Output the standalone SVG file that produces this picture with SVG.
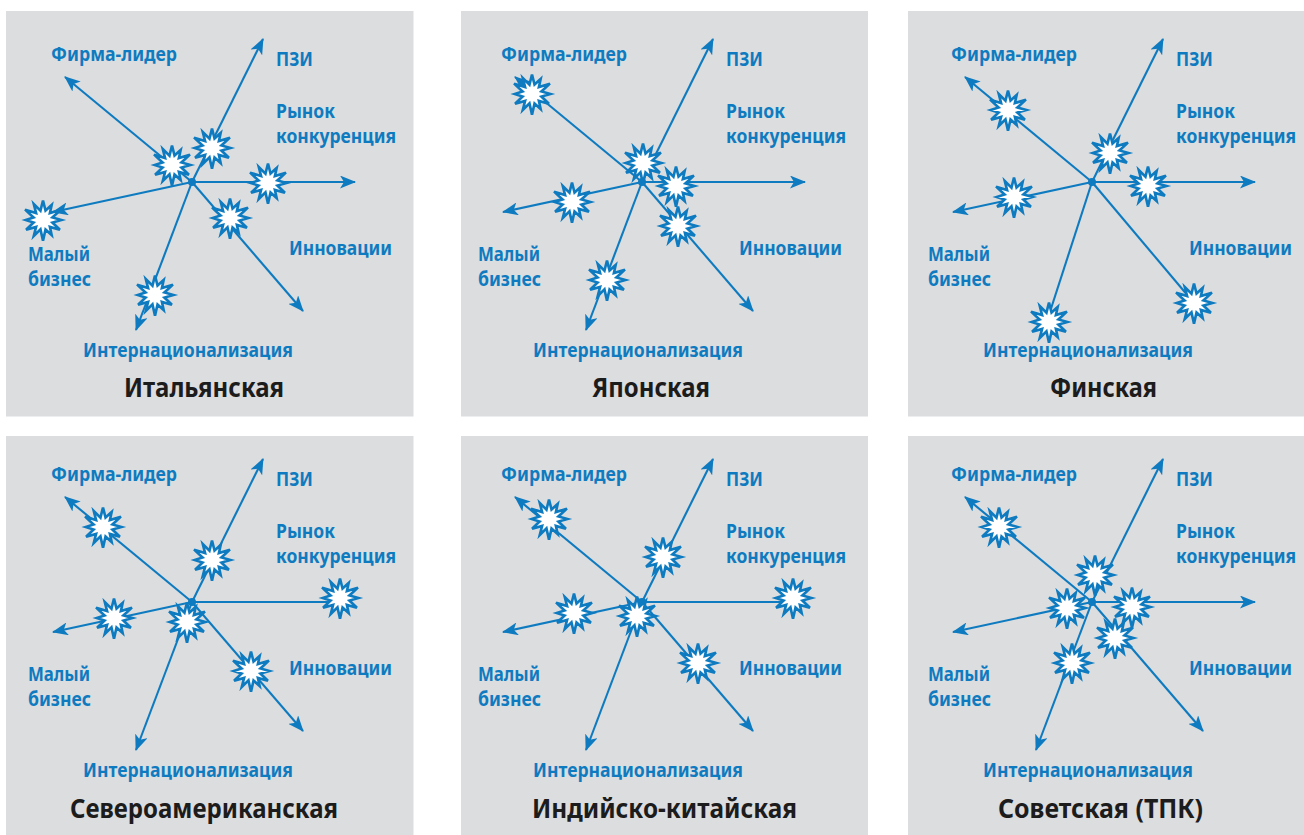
<svg xmlns="http://www.w3.org/2000/svg" xmlns:xlink="http://www.w3.org/1999/xlink" width="1304" height="835" viewBox="0 0 1304 835">
<style>
.bg{fill:#dcdddf}
.ln{stroke:#0e7bc0;stroke-width:2.1;fill:none}
.ah{marker-end:url(#ah)}
.dot{fill:#0e7bc0}
.star{fill:#fff;stroke:#0e7bc0;stroke-width:2.3;stroke-linejoin:miter}
.lb{font-family:"Noto Sans","Open Sans","Liberation Sans",sans-serif;font-weight:bold;font-size:19.5px;fill:#0e7bc0}
.tt{font-family:"Noto Sans","Open Sans","Liberation Sans",sans-serif;font-weight:bold;font-size:26px;fill:#1c1c1c}
</style>
<defs>
<marker id="ah" viewBox="0 0 16 13" markerWidth="16" markerHeight="13" refX="15" refY="6.5" orient="auto" markerUnits="userSpaceOnUse">
<path d="M0,0 L16,6.5 L0,13 L4,6.5 Z" fill="#0e7bc0"/>
</marker>
<g id="st"><path transform="scale(1.15)" d="M0,-17 L2.2,-8.2 L7.5,-13 L6,-6 L15.6,-9 L8.2,-2.2 L16,0 L8.2,2.2 L14.7,8.5 L6,6 L7.5,13 L2.2,8.2 L0,18 L-2.2,8.2 L-8,13.9 L-6,6 L-14.7,8.5 L-8.2,2.2 L-15,0 L-8.2,-2.2 L-15.6,-9 L-6,-6 L-8,-13.9 L-2.2,-8.2 Z"/></g>
<g id="labels">
<text class="lb" x="51" y="61" textLength="126" lengthAdjust="spacingAndGlyphs">Фирма-лидер</text>
<text class="lb" x="276" y="66" textLength="37" lengthAdjust="spacingAndGlyphs">ПЗИ</text>
<text class="lb" x="276" y="118" textLength="59" lengthAdjust="spacingAndGlyphs">Рынок</text>
<text class="lb" x="276" y="143" textLength="120" lengthAdjust="spacingAndGlyphs">конкуренция</text>
<text class="lb" x="289" y="255" textLength="103" lengthAdjust="spacingAndGlyphs">Инновации</text>
<text class="lb" x="28" y="261" textLength="62" lengthAdjust="spacingAndGlyphs">Малый</text>
<text class="lb" x="28" y="286" textLength="63" lengthAdjust="spacingAndGlyphs">бизнес</text>
<text class="lb" x="83" y="357" textLength="210" lengthAdjust="spacingAndGlyphs">Интернационализация</text>
</g>
</defs>

<!-- Panel A: Итальянская -->
<g id="panel-italian">
<rect class="bg" x="6" y="11" width="407.5" height="405.5"/>
<g id="connectors-italian">
<line class="ln ah" x1="192" y1="182" x2="65" y2="77"/>
<line class="ln ah" x1="192" y1="182" x2="263" y2="39"/>
<line class="ln ah" x1="192" y1="182" x2="355" y2="182"/>
<line class="ln ah" x1="192" y1="182" x2="303" y2="311"/>
<line class="ln ah" x1="192" y1="182" x2="136" y2="330"/>
<line class="ln ah" x1="192" y1="182" x2="53" y2="212"/>
<circle class="dot" cx="192" cy="182" r="4"/>
</g>
<g id="it-s1"><use href="#st" class="star" x="172" y="165"/></g>
<g id="it-s2"><use href="#st" class="star" x="212" y="148"/></g>
<g id="it-s3"><use href="#st" class="star" x="268" y="183"/></g>
<g id="it-s4"><use href="#st" class="star" x="230" y="218"/></g>
<g id="it-s5"><use href="#st" class="star" x="43" y="220"/></g>
<g id="it-s6"><use href="#st" class="star" x="155" y="295"/></g>
<g id="it-labels"><use href="#labels"/></g>
<g id="it-title"><text class="tt" x="124" y="397" textLength="160" lengthAdjust="spacingAndGlyphs">Итальянская</text></g>
</g>

<!-- Panel B: Японская -->
<g id="panel-japanese" transform="translate(450,0)">
<rect class="bg" x="11" y="11" width="407" height="405.5"/>
<g id="connectors-japanese">
<line class="ln ah" x1="192" y1="182" x2="65" y2="77"/>
<line class="ln ah" x1="192" y1="182" x2="263" y2="39"/>
<line class="ln ah" x1="192" y1="182" x2="355" y2="182"/>
<line class="ln ah" x1="192" y1="182" x2="303" y2="311"/>
<line class="ln ah" x1="192" y1="182" x2="136" y2="330"/>
<line class="ln ah" x1="192" y1="182" x2="53" y2="212"/>
<circle class="dot" cx="192" cy="182" r="4"/>
</g>
<g id="jp-s1"><use href="#st" class="star" x="82" y="94"/></g>
<g id="jp-s2"><use href="#st" class="star" x="193" y="163"/></g>
<g id="jp-s3"><use href="#st" class="star" x="226" y="186"/></g>
<g id="jp-s4"><use href="#st" class="star" x="228" y="226"/></g>
<g id="jp-s5"><use href="#st" class="star" x="122" y="202"/></g>
<g id="jp-s6"><use href="#st" class="star" x="157" y="280"/></g>
<g id="jp-labels"><use href="#labels"/></g>
<g id="jp-title"><text class="tt" x="142" y="397" textLength="118" lengthAdjust="spacingAndGlyphs">Японская</text></g>
</g>

<!-- Panel C: Финская -->
<g id="panel-finnish" transform="translate(900,0)">
<rect class="bg" x="8" y="11" width="396" height="405.5"/>
<g id="connectors-finnish">
<line class="ln ah" x1="192" y1="182" x2="65" y2="77"/>
<line class="ln ah" x1="192" y1="182" x2="263" y2="39"/>
<line class="ln ah" x1="192" y1="182" x2="355" y2="182"/>
<line class="ln" x1="192" y1="182" x2="294" y2="303"/>
<line class="ln" x1="192" y1="182" x2="147" y2="321"/>
<line class="ln ah" x1="192" y1="182" x2="53" y2="212"/>
<circle class="dot" cx="192" cy="182" r="4"/>
</g>
<g id="fi-s1"><use href="#st" class="star" x="108" y="110"/></g>
<g id="fi-s2"><use href="#st" class="star" x="210" y="153"/></g>
<g id="fi-s3"><use href="#st" class="star" x="248" y="186"/></g>
<g id="fi-s4"><use href="#st" class="star" x="114" y="197"/></g>
<g id="fi-s5"><use href="#st" class="star" x="294" y="303"/></g>
<g id="fi-s6"><use href="#st" class="star" x="149" y="322"/></g>
<g id="fi-labels"><use href="#labels"/></g>
<g id="fi-title"><text class="tt" x="150" y="397" textLength="107" lengthAdjust="spacingAndGlyphs">Финская</text></g>
</g>

<!-- Panel D: Североамериканская -->
<g id="panel-northamerican" transform="translate(0,420)">
<rect class="bg" x="6" y="16" width="407.5" height="399"/>
<g id="connectors-northamerican">
<line class="ln ah" x1="192" y1="182" x2="65" y2="77"/>
<line class="ln ah" x1="192" y1="182" x2="263" y2="39"/>
<line class="ln" x1="192" y1="182" x2="340" y2="182"/>
<line class="ln ah" x1="192" y1="182" x2="303" y2="311"/>
<line class="ln ah" x1="192" y1="182" x2="136" y2="330"/>
<line class="ln ah" x1="192" y1="182" x2="53" y2="212"/>
<circle class="dot" cx="192" cy="182" r="4"/>
</g>
<g id="na-s1"><use href="#st" class="star" x="103" y="107"/></g>
<g id="na-s2"><use href="#st" class="star" x="212" y="140"/></g>
<g id="na-s3"><use href="#st" class="star" x="340" y="178"/></g>
<g id="na-s4"><use href="#st" class="star" x="114" y="198"/></g>
<g id="na-s5"><use href="#st" class="star" x="187" y="202"/></g>
<g id="na-s6"><use href="#st" class="star" x="251" y="251"/></g>
<g id="na-labels"><use href="#labels"/></g>
<g id="na-title"><text class="tt" x="70" y="398" textLength="268" lengthAdjust="spacingAndGlyphs">Североамериканская</text></g>
</g>

<!-- Panel E: Индийско-китайская -->
<g id="panel-indochinese" transform="translate(450,420)">
<rect class="bg" x="11" y="16" width="407" height="399"/>
<g id="connectors-indochinese">
<line class="ln ah" x1="192" y1="182" x2="65" y2="77"/>
<line class="ln ah" x1="192" y1="182" x2="263" y2="39"/>
<line class="ln" x1="192" y1="182" x2="343" y2="182"/>
<line class="ln ah" x1="192" y1="182" x2="303" y2="311"/>
<line class="ln ah" x1="192" y1="182" x2="136" y2="330"/>
<line class="ln ah" x1="192" y1="182" x2="53" y2="212"/>
<circle class="dot" cx="192" cy="182" r="4"/>
</g>
<g id="ic-s1"><use href="#st" class="star" x="99" y="99"/></g>
<g id="ic-s2"><use href="#st" class="star" x="213" y="137"/></g>
<g id="ic-s3"><use href="#st" class="star" x="343" y="178"/></g>
<g id="ic-s4"><use href="#st" class="star" x="124" y="193"/></g>
<g id="ic-s5"><use href="#st" class="star" x="187" y="196"/></g>
<g id="ic-s6"><use href="#st" class="star" x="248" y="243"/></g>
<g id="ic-labels"><use href="#labels"/></g>
<g id="ic-title"><text class="tt" x="82" y="398" textLength="265" lengthAdjust="spacingAndGlyphs">Индийско-китайская</text></g>
</g>

<!-- Panel F: Советская (ТПК) -->
<g id="panel-soviet" transform="translate(900,420)">
<rect class="bg" x="8" y="16" width="396" height="399"/>
<g id="connectors-soviet">
<line class="ln ah" x1="192" y1="182" x2="65" y2="77"/>
<line class="ln ah" x1="192" y1="182" x2="263" y2="39"/>
<line class="ln ah" x1="192" y1="182" x2="355" y2="182"/>
<line class="ln ah" x1="192" y1="182" x2="303" y2="311"/>
<line class="ln ah" x1="192" y1="182" x2="136" y2="330"/>
<line class="ln ah" x1="192" y1="182" x2="53" y2="212"/>
<circle class="dot" cx="192" cy="182" r="4"/>
</g>
<g id="sv-s1"><use href="#st" class="star" x="99" y="107"/></g>
<g id="sv-s2"><use href="#st" class="star" x="195" y="155"/></g>
<g id="sv-s3"><use href="#st" class="star" x="232" y="187"/></g>
<g id="sv-s4"><use href="#st" class="star" x="167" y="188"/></g>
<g id="sv-s5"><use href="#st" class="star" x="215" y="218"/></g>
<g id="sv-s6"><use href="#st" class="star" x="172" y="243"/></g>
<g id="sv-labels"><use href="#labels"/></g>
<g id="sv-title"><text class="tt" x="98" y="398" textLength="205" lengthAdjust="spacingAndGlyphs">Советская (ТПК)</text></g>
</g>
</svg>
